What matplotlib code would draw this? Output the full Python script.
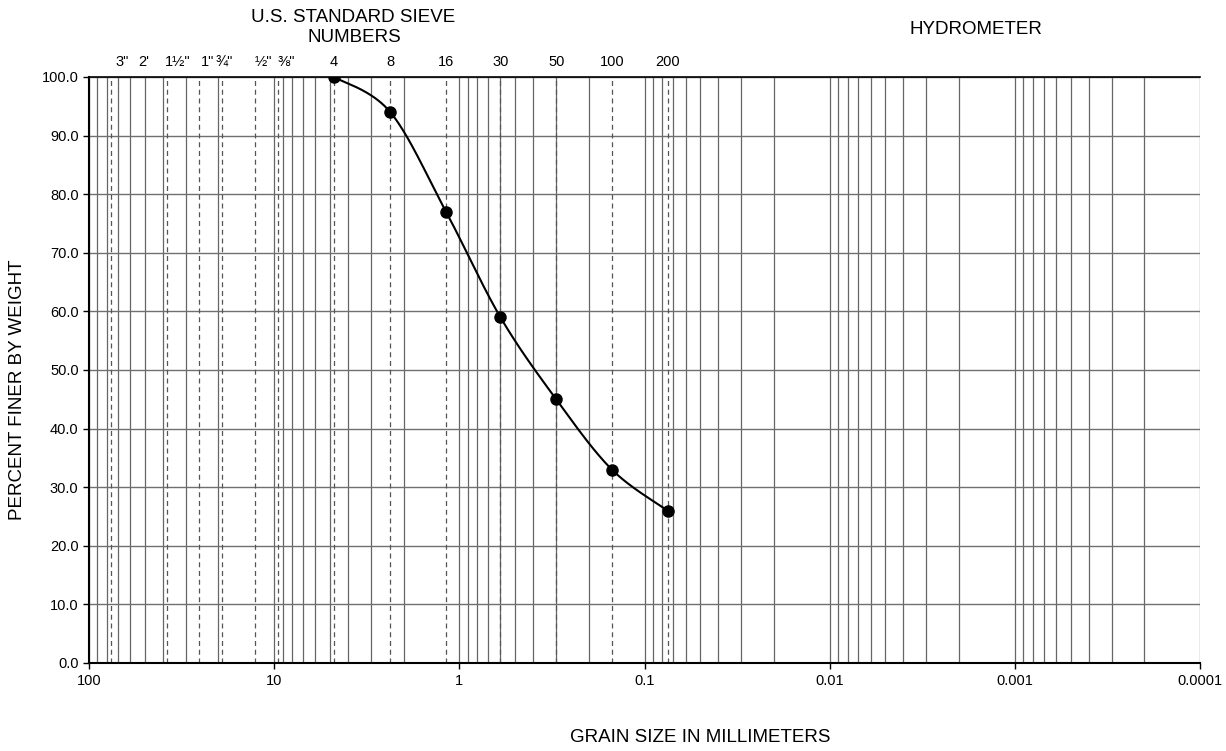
import numpy as np
import matplotlib
matplotlib.use("Agg")
import matplotlib.pyplot as plt

plt.rcParams.update({
    "font.family": ["Liberation Sans", "DejaVu Sans"],
    "font.size": 10,
})

# sieve analysis results
sieve_names = ["4", "8", "16", "30", "50", "100", "200"]
grain_mm = [4.75, 2.36, 1.18, 0.60, 0.30, 0.15, 0.075]
pct_finer = [100.0, 94.0, 77.0, 59.0, 45.0, 33.0, 26.0]

# standard sieve openings shown as dashed lines
inch_labels = ['3"', "2'", '1½"', '1"', '¾"', '½"', '⅜"']
inch_label_mm = [66.0, 50.8, 33.0, 23.0, 18.5, 11.5, 8.6]
dashed_mm = [76.2, 38.1, 25.4, 19.05, 12.7, 9.525,
             4.75, 2.36, 1.18, 0.60, 0.30, 0.15, 0.075]

y_ticks = np.arange(0, 101, 10)
x_ticks = [100, 10, 1, 0.1, 0.01, 0.001, 0.0001]
x_tick_labels = ["100", "10", "1", "0.1", "0.01", "0.001", "0.0001"]


def smooth_line(xs, ys, n=40):
    """Bezier smoothing through the points (spreadsheet style smoothed line)."""
    px = np.concatenate([[xs[0]], xs, [xs[-1]]])
    py = np.concatenate([[ys[0]], ys, [ys[-1]]])
    t = np.linspace(0, 1, n)
    out_x, out_y = [], []
    for i in range(1, len(px) - 2):
        for arr, out in ((px, out_x), (py, out_y)):
            b0 = arr[i]
            b3 = arr[i + 1]
            b1 = b0 + (arr[i + 1] - arr[i - 1]) / 6
            b2 = b3 - (arr[i + 2] - arr[i]) / 6
            out.extend((1 - t) ** 3 * b0 + 3 * (1 - t) ** 2 * t * b1
                       + 3 * (1 - t) * t ** 2 * b2 + t ** 3 * b3)
    return np.array(out_x), np.array(out_y)


fig = plt.figure(figsize=(12.26, 7.51), dpi=100)
ax = fig.add_axes([0.0726, 0.1172, 0.9062, 0.7803])
ax.set_xscale("log")
ax.set_xlim(100, 0.0001)
ax.set_ylim(0, 100)

# grid: every 1..9 multiple within each decade
grid_x = [m * 10.0 ** e for e in range(-4, 2) for m in range(1, 10)] + [100]
for gx in grid_x:
    ax.axvline(gx, color="#666666", lw=0.9, zorder=1)
for gy in y_ticks[1:]:
    ax.axhline(gy, color="#707070", lw=1.0, zorder=1)
for dx in dashed_mm:
    ax.axvline(dx, color="#555555", lw=0.9, ls=(0, (4, 3)), zorder=2)

cx, cy = smooth_line(np.log10(grain_mm), np.array(pct_finer))
ax.plot(10 ** cx, cy, color="black", lw=1.5, zorder=4)
ax.plot(grain_mm, pct_finer, "o", color="black", ms=8, zorder=5)

ax.minorticks_off()
ax.set_xticks(x_ticks)
ax.set_xticklabels(x_tick_labels)
ax.set_yticks(y_ticks)
ax.set_yticklabels([f"{v:.1f}" for v in y_ticks])
ax.tick_params(axis="both", direction="out", length=4, width=1,
               labelsize=10.5, color="black")
ax.tick_params(axis="x", pad=4)

for side in ["top", "right"]:
    ax.spines[side].set_visible(False)
ax.spines["left"].set_linewidth(1.5)
ax.spines["bottom"].set_linewidth(1.5)
ax.plot([0, 1], [1, 1], transform=ax.transAxes, color="black", lw=1.2,
        clip_on=False, zorder=6)

# sieve labels above the plot
for lab, xm in zip(inch_labels, inch_label_mm):
    ax.text(xm, 101.3, lab, ha="center", va="bottom", fontsize=10.5)
for lab, xm in zip(sieve_names, grain_mm):
    ax.text(xm, 101.3, lab, ha="center", va="bottom", fontsize=10.5)

fig.text(353 / 1226, 1 - 17 / 751, "U.S. STANDARD SIEVE", ha="center",
         va="center", fontsize=13.5)
fig.text(354 / 1226, 1 - 38 / 751, "NUMBERS", ha="center",
         va="center", fontsize=13.5)
fig.text(976 / 1226, 1 - 29 / 751, "HYDROMETER", ha="center",
         va="center", fontsize=13.5)
fig.text(18 / 1226, 1 - 390 / 751, "PERCENT FINER BY WEIGHT", rotation=90,
         ha="center", va="center", fontsize=13.5)
fig.text(700 / 1226, 1 - 737 / 751, "GRAIN SIZE IN MILLIMETERS",
         ha="center", va="center", fontsize=13.5)

fig.savefig("out.png", dpi=100)
